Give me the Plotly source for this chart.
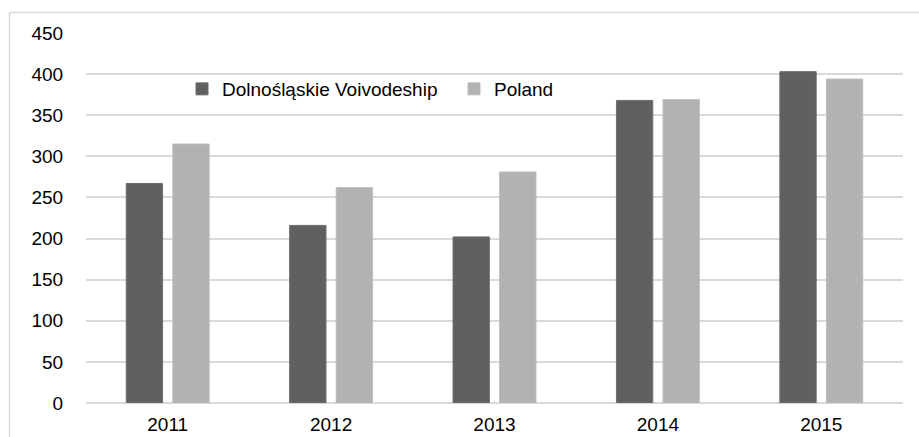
import plotly.graph_objects as go

years = ["2011", "2012", "2013", "2014", "2015"]
dolnoslaskie = [267, 216, 202, 368, 403]
poland = [315, 262, 281, 369, 394]
y_ticks = [0, 50, 100, 150, 200, 250, 300, 350, 400, 450]

W, H = 919, 437
L, R, T, B = 86, 16, 33, 34
plot_w = W - L - R
plot_h = H - T - B

FONT = "Liberation Sans, Arial, sans-serif"


def px_x(px):
    return (px - L) / plot_w


def px_y(py):
    return (H - B - py) / plot_h


fig = go.Figure()
fig.add_trace(go.Bar(
    name="Dolnośląskie Voivodeship", x=years, y=dolnoslaskie, legend="legend",
    marker=dict(color="#606060", line=dict(color="#6e6e6e", width=1)),
))
fig.add_trace(go.Bar(
    name="Poland", x=years, y=poland, legend="legend2",
    marker=dict(color="#b2b2b2", line=dict(color="#bdbdbd", width=1)),
))

# light frame around the chart (left and top edges visible)
frame = dict(color="#d9d9d9", width=1.5)
fig.add_shape(type="line", xref="paper", yref="paper",
              x0=px_x(9.5), x1=px_x(9.5), y0=px_y(12.5), y1=px_y(460), line=frame)
fig.add_shape(type="line", xref="paper", yref="paper",
              x0=px_x(9.5), x1=px_x(930), y0=px_y(12.5), y1=px_y(12.5), line=frame)

legend_style = dict(
    orientation="h", xanchor="left", yanchor="middle",
    font=dict(family=FONT, size=19, color="#000000"),
    bgcolor="rgba(0,0,0,0)", itemwidth=30,
)

fig.update_layout(
    width=W, height=H,
    margin=dict(l=L, r=R, t=T, b=B, autoexpand=False),
    paper_bgcolor="white", plot_bgcolor="white",
    barmode="group", bargap=0.43, bargroupgap=0.22,
    font=dict(family=FONT, size=19, color="#000000"),
    showlegend=True,
    legend=dict(x=px_x(182), y=px_y(89), **legend_style),
    legend2=dict(x=px_x(454), y=px_y(89), **legend_style),
)
fig.update_xaxes(
    type="category", showgrid=False, showline=False, zeroline=False,
    ticks="outside", ticklen=4, tickcolor="rgba(0,0,0,0)",
    tickfont=dict(family=FONT, size=19, color="#000000"), automargin=False,
)
fig.update_yaxes(
    range=[0, 450], tickvals=y_ticks, showgrid=True, gridcolor="#d9d9d9", gridwidth=2,
    zeroline=True, zerolinecolor="#d9d9d9", zerolinewidth=2, showline=False,
    ticks="outside", ticklen=18, tickcolor="rgba(0,0,0,0)",
    tickfont=dict(family=FONT, size=19, color="#000000"), automargin=False,
)

fig.write_html("out.html")
